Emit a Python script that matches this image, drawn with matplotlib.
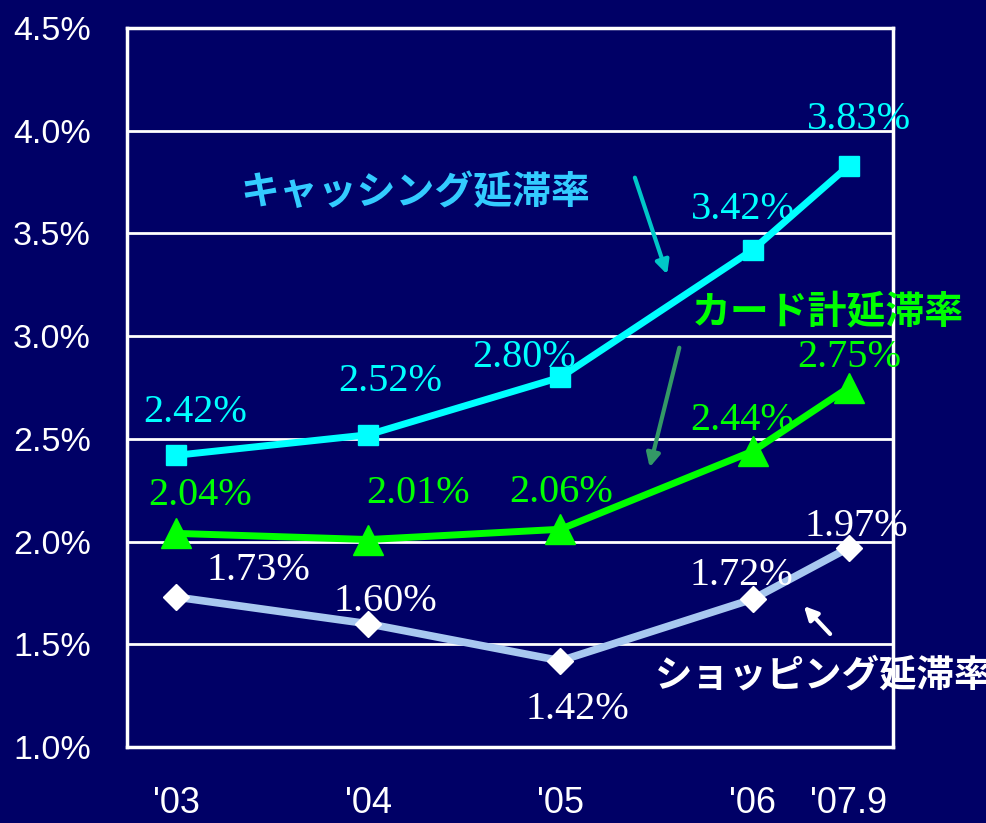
import matplotlib.pyplot as plt
import numpy as np

plt.rcParams['font.family'] = ['Liberation Sans', 'Noto Sans CJK JP', 'DejaVu Sans']

# ---- data ----
periods = ["'03", "'04", "'05", "'06", "'07.9"]
period_pos = [0, 1, 2, 3, 3.5]
cashing = [2.42, 2.52, 2.80, 3.42, 3.83]
card_total = [2.04, 2.01, 2.06, 2.44, 2.75]
shopping = [1.73, 1.60, 1.42, 1.72, 1.97]
y_ticks = [1.0, 1.5, 2.0, 2.5, 3.0, 3.5, 4.0, 4.5]

BG = "#000066"
CYAN = "#00FFFF"
GREEN = "#00FF00"
SHOP = "#A8C8F0"
JP = ['Noto Sans CJK JP', 'DejaVu Sans']
SERIF = ['Liberation Serif', 'DejaVu Serif']

fig = plt.figure(figsize=(9.87, 8.23), dpi=100, facecolor=BG)
ax = fig.add_axes([0.1287, 0.0923, 0.7761, 0.8737], facecolor=BG)

ax.set_ylim(1.0, 4.5)
ax.set_xlim(-0.255, 3.73)
ax.set_yticks(y_ticks)
ax.set_yticklabels([f"{v:.1f}%" for v in y_ticks])
ax.set_xticks(period_pos)
ax.set_xticklabels(periods)
ax.tick_params(axis='y', length=0, colors='white', labelsize=24.5, pad=26)
ax.tick_params(axis='x', length=0, colors='white', labelsize=26, pad=28)
ax.grid(axis='y', color='white', linewidth=2)
ax.set_axisbelow(True)
for side in ['left', 'right', 'top', 'bottom']:
    ax.spines[side].set_color('white')
    ax.spines[side].set_linewidth(2.5)

ax.plot(period_pos, shopping, color=SHOP, lw=5.5, marker='D', ms=13,
        mfc='white', mec='white', zorder=3)
ax.plot(period_pos, card_total, color=GREEN, lw=5, marker='^', ms=21,
        mfc=GREEN, mec=GREEN, zorder=4)
ax.plot(period_pos, cashing, color=CYAN, lw=5, marker='s', ms=15,
        mfc=CYAN, mec=CYAN, zorder=5)

# value labels (offsets in pixels)
cash_off = [(19, 43), (22, 53), (-36, 20), (-10, 40), (10, 46)]
card_off = [(24, 38), (50, 46), (1, 37), (-11, 31), (0, 30)]
shop_off = [(82, 27), (17, 22), (17, -49), (-11, 24), (7, 21)]
for vals, offs, col in [(cashing, cash_off, CYAN), (card_total, card_off, GREEN),
                        (shopping, shop_off, 'white')]:
    for x, v, (dx, dy) in zip(period_pos, vals, offs):
        ax.annotate(f"{v:.2f}%", (x, v), xytext=(dx, dy), textcoords='offset pixels',
                    ha='center', va='center', color=col, fontsize=29,
                    family=SERIF, zorder=6)

# series names
fig.text(415 / 987, 1 - 192 / 823, "キャッシング延滞率", color="#33CCFF", fontsize=28,
         fontweight='bold', family=JP, ha='center', va='center')
fig.text(692 / 987, 1 - 312 / 823, "カード計延滞率", color=GREEN, fontsize=28,
         fontweight='bold', family=JP, ha='left', va='center')
fig.text(655 / 987, 1 - 675 / 823, "ショッピング延滞率", color='white', fontsize=27,
         fontweight='bold', family=JP, ha='left', va='center')

# pointer arrows
def arrow(x0, y0, x1, y1, col):
    fig.add_artist(plt.matplotlib.patches.FancyArrowPatch(
        (x0 / 987, 1 - y0 / 823), (x1 / 987, 1 - y1 / 823), transform=fig.transFigure,
        arrowstyle='-|>,head_length=8,head_width=4', color=col, lw=3, zorder=7))

arrow(634, 175, 668, 277, "#00C8C8")
arrow(680, 345, 649, 470, "#339966")
arrow(832, 636, 802, 604, "white")

fig.savefig("out.png", dpi=100, facecolor=BG)
